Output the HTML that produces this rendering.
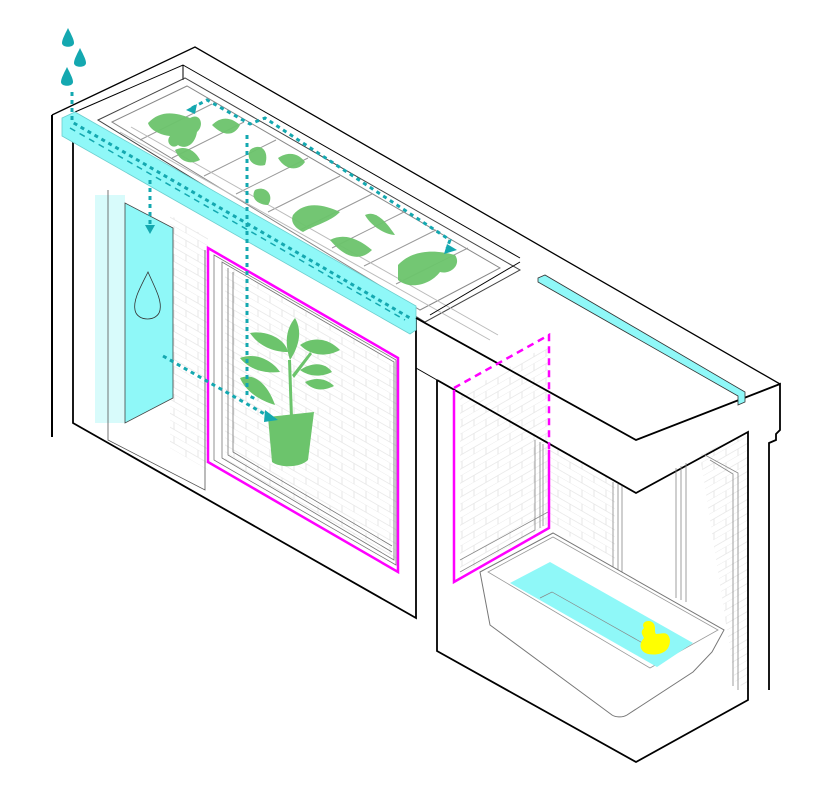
<!DOCTYPE html>
<html><head><meta charset="utf-8"><style>html,body{margin:0;padding:0;background:#fff}svg{display:block}</style></head><body>
<svg width="826" height="793" viewBox="0 0 826 793" xmlns="http://www.w3.org/2000/svg">
<defs>
<pattern id="brick" width="24" height="14" patternUnits="userSpaceOnUse" patternTransform="skewY(30)">
<path d="M0 7H24M0 14H24M6 0V7M18 7V14" stroke="#e4e4e4" stroke-width="0.8" fill="none"/>
</pattern>
<pattern id="brick2" width="24" height="14" patternUnits="userSpaceOnUse" patternTransform="skewY(-30)">
<path d="M0 7H24M0 14H24M6 0V7M18 7V14" stroke="#e4e4e4" stroke-width="0.8" fill="none"/>
</pattern>
</defs>
<g fill="none" stroke="#000" stroke-linejoin="miter">
<path d="M52 115 L195 47 L780 384" stroke-width="1.3"/>
<path d="M75 112 L183 65 L520 258" stroke-width="1"/>
<path d="M183 65 L183 80" stroke-width="1"/>
<path d="M52 115 V437" stroke-width="2"/>
<path d="M73 118 V423 L416 618 V318" stroke-width="1.8"/>
</g>
<polygon points="170,215 208,238 208,470 170,448" fill="url(#brick)"/>
<polygon points="225,265 398,365 398,560 225,460" fill="url(#brick)"/>
<polygon points="460,395 548,345 548,525 460,575" fill="url(#brick2)"/>
<polygon points="548,440 615,480 615,560 548,525" fill="url(#brick)"/>
<polygon points="700,455 748,432 748,690 735,682" fill="url(#brick2)"/>
<g fill="none" stroke="#888" stroke-width="1">
<polygon points="98,120 185,78 520,270 425,322" stroke="#444"/>
<polygon points="112,122 187,86 500,268 420,310"/>
<g stroke="#999">
<path d="M140 140 L212 104 M172 158 L244 122 M204 176 L276 140 M236 194 L308 158 M268 212 L340 176 M300 230 L372 194 M332 248 L404 212 M364 266 L436 230 M396 284 L468 248"/>
<path d="M120 132 L490 340 M131 127 L498 335" stroke="#bbb"/>
</g>
</g>
<g fill="#6cc46c" opacity="0.95">
<path d="M148 123 C160 110 175 112 190 118 C200 112 205 125 197 132 C195 145 185 150 178 145 C172 150 165 142 170 136 C160 135 150 130 148 123Z"/>
<path d="M175 150 C185 145 195 150 200 160 C190 165 180 162 175 150Z"/>
<path d="M212 125 C222 115 232 118 240 125 C235 135 225 138 212 125Z"/>
<path d="M250 150 C260 142 270 150 265 165 C255 168 245 160 250 150Z"/>
<path d="M278 158 C290 150 300 155 305 162 C298 172 285 170 278 158Z"/>
<path d="M255 190 C265 185 275 195 268 205 C258 205 250 198 255 190Z"/>
<path d="M293 215 C305 200 325 205 340 212 C330 222 315 225 303 232 C295 228 290 222 293 215Z"/>
<path d="M330 240 C345 232 360 240 372 250 C360 262 345 258 330 240Z"/>
<path d="M365 215 C375 210 385 220 395 235 C385 235 370 225 365 215Z"/>
<path d="M398 265 C410 252 430 248 455 255 C462 265 450 275 440 272 C430 285 410 290 398 280Z"/>
</g>
<polygon points="62,118 75,112 416,306 416,330 410,334 62,136" fill="#8ff8f8" stroke="#6ccece" stroke-width="0.8"/>
<rect x="95" y="195" width="30" height="228" fill="#d8fbfb"/>
<polygon points="125,203 173,228 173,398 125,423" fill="#8ff8f8" stroke="#444" stroke-width="0.8"/>
<path d="M108 190 V440 L205 490 V250" fill="none" stroke="#555" stroke-width="0.8"/>
<path d="M148 272 C140 288 133 300 135 310 C137 322 158 322 160 310 C162 300 155 288 148 272Z" fill="none" stroke="#333" stroke-width="0.8"/>
<g fill="none" stroke="#777" stroke-width="0.8">
<polygon points="214,255 396,360 396,565 214,460"/>
<polygon points="222,262 394,362 394,560 222,458"/>
<path d="M228 268 V455 L392 552 M233 272 V452 L392 546"/>
</g>
<polygon points="208,248 398,358 398,572 208,462" fill="none" stroke="#ff00ff" stroke-width="2.5"/>
<g fill="#6cc46c">
<path d="M268 417 L314 412 L308 460 C300 468 280 468 272 462Z"/>
<path d="M295 318 C285 330 285 345 290 360 C300 345 302 330 295 318Z"/>
<path d="M250 333 C265 330 285 338 288 352 C272 352 258 345 250 333Z"/>
<path d="M300 345 C315 335 330 340 340 350 C325 358 310 355 300 345Z"/>
<path d="M240 358 C255 352 272 360 280 372 C262 374 248 368 240 358Z"/>
<path d="M300 370 C312 362 325 362 332 372 C320 378 308 376 300 370Z"/>
<path d="M240 378 C255 372 268 385 275 405 C258 400 245 390 240 378Z"/>
<path d="M305 382 C318 376 328 380 334 386 C322 392 312 390 305 382Z"/>
<path d="M288 360 L290 418 L293 418 L291 360Z M292 375 L310 352 L312 354 L294 378Z"/>
</g>
<g fill="none" stroke="#000" stroke-width="1.8">
<path d="M416 318 L636 440 L780 384 V430 L776 434 V440 L769 443 V690"/>
<path d="M437 380 L636 493 L748 432 V700 L636 762 L437 651 V380"/>
<path d="M437 380 L416 368" stroke-width="1"/>
</g>
<path d="M538 278 L545 275 L745 392 V402 L738 405 V396 L538 282Z" fill="#8ff8f8" stroke="#333" stroke-width="0.8"/>
<path d="M520 262 L430 315" stroke="#000" stroke-width="1"/>
<g fill="none" stroke="#888" stroke-width="0.8">
<path d="M535 440 V530 L460 572 M540 442 V528 M543 444 V526"/>
<path d="M613 482 V570 M618 484 V572 M622 486 V575"/>
<path d="M676 468 V598 M681 466 V600 M686 463 V602"/>
<path d="M705 455 L738 473 V690 M710 460 L733 474 V686"/>
<path d="M460 560 L548 512"/>
</g>
<path d="M454 390 V582 L549 528 V450" fill="none" stroke="#ff00ff" stroke-width="2.5"/>
<path d="M454 388 L549 335 V450" fill="none" stroke="#ff00ff" stroke-width="2.5" stroke-dasharray="7 5"/>
<path d="M480 572 L553 533 L724 630 L712 652 L693 672 L627 715 C622 718 615 717 612 715 L490 625 Z" fill="#fff" stroke="#777" stroke-width="1"/>
<path d="M488 572 L553 537 L718 630 L650 668 Z" fill="none" stroke="#999" stroke-width="0.8"/>
<polygon points="510,583 550,562 693,643 657,667" fill="#8ff8f8"/>
<path d="M540 598 L552 592 L655 650" fill="none" stroke="#888" stroke-width="0.7"/>
<path d="M644 628 C640 622 650 618 654 624 C656 628 654 632 656 634 C662 634 668 630 670 640 C670 652 660 656 648 654 C640 652 638 644 644 638 C642 634 640 632 644 628Z" fill="#ffff00"/>
<g fill="#14a8b0">
<path d="M68 28 C64 36 62 40 62 43 C62 48 74 48 74 43 C74 40 72 36 68 28Z"/>
<path d="M80 48 C76 56 74 60 74 63 C74 68 86 68 86 63 C86 60 84 56 80 48Z"/>
<path d="M67 67 C63 75 61 79 61 82 C61 87 73 87 73 82 C73 79 71 75 67 67Z"/>
</g>
<g fill="none" stroke="#14a8b0" stroke-width="3" stroke-dasharray="4 4">
<path d="M72 92 V122 L410 318"/>
<path d="M150 180 V225"/>
<path d="M163 356 L268 416"/>
<path d="M247 135 V395 L258 400"/>
<path d="M192 108 L207 100 L250 124 L265 118 L450 240 L447 248"/>
<path d="M70 128 L405 320" stroke-width="1.5" stroke-dasharray="6 5"/>
</g>
<g fill="#14a8b0">
<polygon points="145,225 155,225 150,234"/>
<polygon points="265,410 278,420 264,422"/>
<polygon points="186,110 197,104 195,114"/>
<polygon points="447,244 457,250 444,254"/>
</g>
</svg>
</body></html>
